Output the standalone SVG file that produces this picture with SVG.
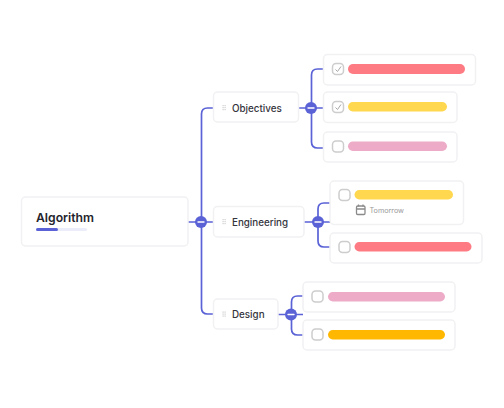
<svg xmlns="http://www.w3.org/2000/svg" width="504" height="408" viewBox="0 0 504 408">
<defs>
<style>
.box{fill:#fff;stroke:#f1f1f3;stroke-width:1.5}
.line{fill:none;stroke:#5a62d6;stroke-width:1.7}
.dot{fill:#5a62d6}
.minus{stroke:#fff;stroke-width:1.4;stroke-linecap:round}
.cb{fill:#fff;stroke:#cdcdcd;stroke-width:1.500}
.tick{fill:none;stroke:#a8a8a8;stroke-width:1}
.t{font-family:Inter,"Liberation Sans",sans-serif;font-size:9.800px;font-weight:500;fill:#34343c}
.grip{fill:#cfcfcf}
.red{fill:#ff7b84}.yel{fill:#ffd84f}.pink{fill:#edabc8}.amb{fill:#ffb700}
</style>
<g id="grip"><rect x="0" y="0" width="1.200" height="1.200" class="grip"/><rect x="2" y="0" width="1.200" height="1.200" class="grip"/><rect x="0" y="2" width="1.200" height="1.200" class="grip"/><rect x="2" y="2" width="1.200" height="1.200" class="grip"/><rect x="0" y="4" width="1.200" height="1.200" class="grip"/><rect x="2" y="4" width="1.200" height="1.200" class="grip"/></g>
</defs>
<rect width="504" height="408" fill="#fff"/>
<g id="connectors">
<path class="line" d="M188 222H213M201.500 222V114Q201.500 108 207.500 108H213.500M201.500 222V308Q201.500 314 207.500 314H213.500"/>
<path class="line" d="M298.500 108H323.500M311.500 108V75Q311.500 69 317.500 69H323.500M311.500 108V142Q311.500 148 317.500 148H323.500"/>
<path class="line" d="M304 222H330M318 222V209Q318 203 324 203H330M318 222V241Q318 247 324 247H330"/>
<path class="line" d="M278 314.500H303M291.500 314.500V302Q291.500 296 297.500 296H303M291.500 314.500V329Q291.500 335 297.500 335H303"/>
<g id="toggles">
<circle class="dot" cx="201" cy="222" r="6"/><path class="minus" d="M198 222H204"/>
<circle class="dot" cx="311" cy="108" r="6"/><path class="minus" d="M308 108H314"/>
<circle class="dot" cx="318" cy="222" r="6"/><path class="minus" d="M315 222H321"/>
<circle class="dot" cx="291" cy="314.500" r="6"/><path class="minus" d="M288 314.500H294"/>
</g>
</g>
<g id="algorithm">
<rect class="box" x="21.500" y="197" width="166.500" height="49" rx="4"/>
<text x="36" y="222" font-family="Inter,'Liberation Sans',sans-serif" font-size="12.200" font-weight="600" fill="#23232b">Algorithm</text>
<rect x="36" y="228" width="51" height="3" rx="1.500" fill="#ecedfa"/>
<rect x="36" y="228" width="22" height="3" rx="1.500" fill="#5a62d6"/>
</g>
<g id="objectives">
<rect class="box" x="213.500" y="92" width="85" height="30" rx="4"/>
<use href="#grip" x="222.500" y="105"/>
<text class="t" x="232" y="111.500">Objectives</text>
</g>
<g id="engineering">
<rect class="box" x="213.500" y="206.500" width="90.500" height="30.500" rx="4"/>
<use href="#grip" x="222.500" y="219"/>
<text class="t" x="232" y="225.500">Engineering</text>
</g>
<g id="design">
<rect class="box" x="213.500" y="299" width="64.500" height="30" rx="4"/>
<use href="#grip" x="222.500" y="311.500"/>
<text class="t" x="232" y="318">Design</text>
</g>
<g id="obj-1">
<rect class="box" x="323.500" y="54.500" width="152" height="30.500" rx="4"/>
<rect class="cb" x="332.500" y="63.500" width="11" height="11" rx="3.500"/>
<path class="tick" d="M335.500 69.500L337.500 71.500L341 66.500"/>
<rect class="red" x="348" y="64" width="117" height="10" rx="5"/>
</g>
<g id="obj-2">
<rect class="box" x="323.500" y="92" width="133.500" height="30.500" rx="4"/>
<rect class="cb" x="332.500" y="101.500" width="11" height="11" rx="3.500"/>
<path class="tick" d="M335.500 107.500L337.500 109.500L341 104.500"/>
<rect class="yel" x="348" y="102" width="99" height="9.500" rx="4.750"/>
</g>
<g id="obj-3">
<rect class="box" x="323.500" y="132" width="133.500" height="30" rx="4"/>
<rect class="cb" x="332.500" y="141" width="11" height="11" rx="3.500"/>
<rect class="pink" x="348" y="141.500" width="99" height="9.500" rx="4.750"/>
</g>
<g id="eng-1">
<rect class="box" x="330" y="181" width="133.500" height="43.500" rx="4"/>
<rect class="cb" x="339" y="189.500" width="11" height="11" rx="3.500"/>
<rect class="yel" x="354.500" y="190" width="98.500" height="9.500" rx="4.750"/>
<rect x="356.500" y="206" width="8.500" height="8.500" rx="1.200" fill="none" stroke="#8a8a8a" stroke-width="1.300"/>
<path d="M356.500 209H365M358.500 204.500V206.500M363 204.500V206.500" fill="none" stroke="#8a8a8a" stroke-width="1.300"/>
<text x="369.500" y="213" font-family="Inter,'Liberation Sans',sans-serif" font-size="7.200" fill="#9a9a9a">Tomorrow</text>
</g>
<g id="eng-2">
<rect class="box" x="330" y="233" width="152" height="30" rx="4"/>
<rect class="cb" x="339" y="241.500" width="11" height="11" rx="3.500"/>
<rect class="red" x="354.500" y="242" width="117" height="9.500" rx="4.750"/>
</g>
<g id="des-1">
<rect class="box" x="303" y="282" width="152" height="30" rx="4"/>
<rect class="cb" x="312" y="291" width="11" height="11" rx="3.500"/>
<rect class="pink" x="328" y="292" width="117" height="9.500" rx="4.750"/>
</g>
<g id="des-2">
<rect class="box" x="303" y="320" width="152" height="30" rx="4"/>
<rect class="cb" x="312" y="329" width="11" height="11" rx="3.500"/>
<rect class="amb" x="328" y="330" width="117" height="9.500" rx="4.750"/>
</g>
</svg>
